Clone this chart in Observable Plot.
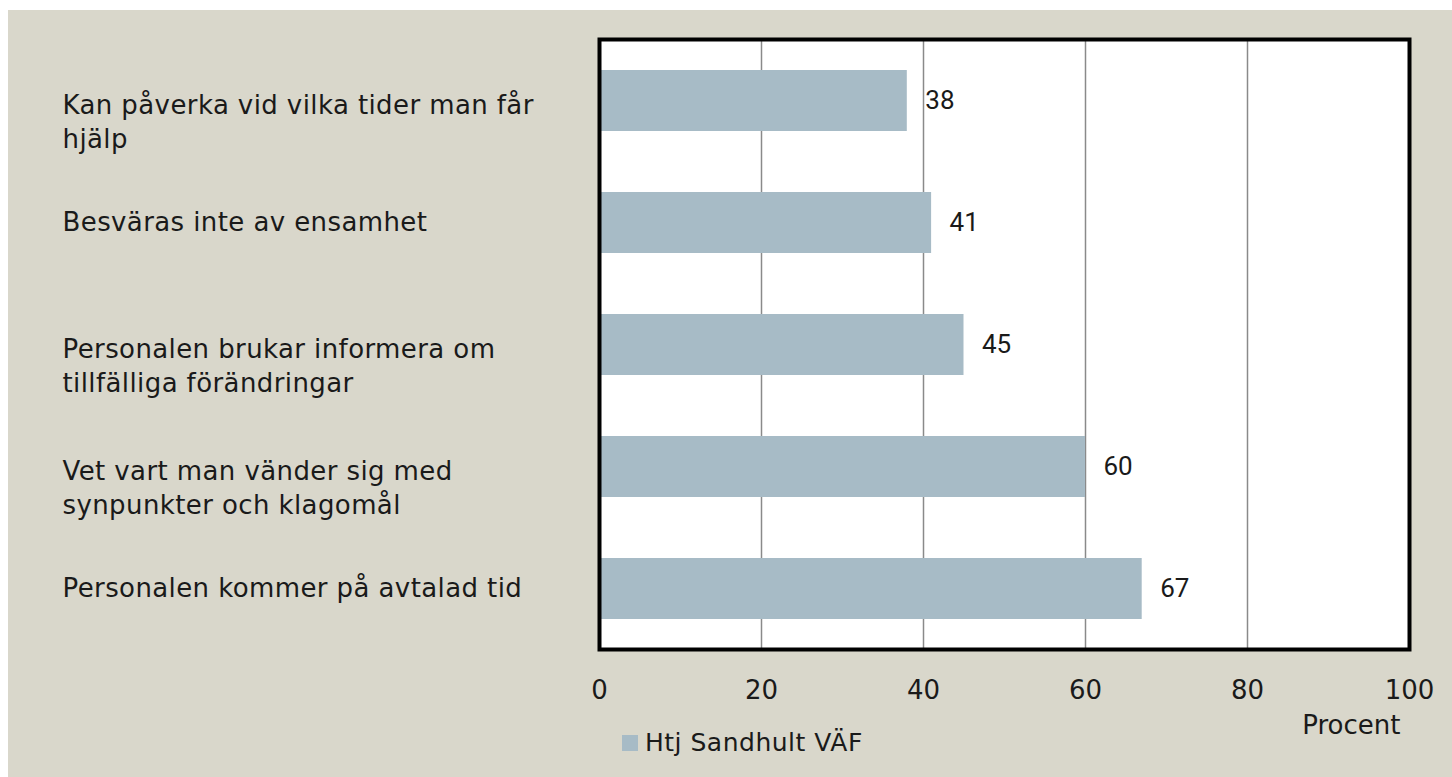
<!DOCTYPE html>
<html>
<head>
<meta charset="utf-8">
<script src="https://cdn.jsdelivr.net/npm/d3@7"></script>
<script src="https://cdn.jsdelivr.net/npm/@observablehq/plot@0.6"></script>
<style>
  html, body { margin: 0; padding: 0; background: #ffffff; }
  #wrap { position: absolute; left: 8px; top: 10px; width: 1444px; height: 767px; background: #d9d7cb; overflow: hidden; }
  #legend { position: absolute; left: 614px; top: 718px; display: flex; align-items: center; font-family: "DejaVu Sans", sans-serif; font-size: 25px; letter-spacing: 0.5px; color: #1a1a1a; }
  #legend .sw { width: 16px; height: 16px; background: #a7bbc6; margin-right: 7px; }
</style>
</head>
<body>
<div id="wrap"><div id="chart"></div><div id="legend"><span class="sw"></span><span id="legendText"></span></div></div>
<script>
const categories = [
  "Kan påverka vid vilka tider man får\nhjälp",
  "Besväras inte av ensamhet",
  "Personalen brukar informera om\ntillfälliga förändringar",
  "Vet vart man vänder sig med\nsynpunkter och klagomål",
  "Personalen kommer på avtalad tid"
];
const values = [38, 41, 45, 60, 67];
const xTicks = [0, 20, 40, 60, 80, 100];
const gridTicks = [20, 40, 60, 80];
const seriesName = "Htj Sandhult VÄF";
const axisLabel = "Procent";

const data = categories.map((c, i) => ({cat: c, value: values[i]}));
const singleLine = categories.filter(c => !c.includes("\n"));
const multiLine = categories.filter(c => c.includes("\n"));

const chart = Plot.plot({
  width: 1444,
  height: 767,
  marginLeft: 591,
  marginRight: 43,
  marginTop: 29,
  marginBottom: 128,
  style: {fontFamily: "DejaVu Sans, sans-serif", fontSize: "25px", background: "transparent", color: "#1a1a1a"},
  x: {domain: [0, 100]},
  y: {domain: categories, paddingInner: 0.5, paddingOuter: 0.25},
  marks: [
    Plot.frame({fill: "white", stroke: null}),
    Plot.gridX({ticks: gridTicks, stroke: "#8a8a8a", strokeOpacity: 1, strokeWidth: 1.5}),
    Plot.barX(data, {x: "value", y: "cat", fill: "#a7bbc6"}),
    Plot.text(data, {x: "value", y: "cat", text: d => String(d.value), textAnchor: "start", dx: 18, fontFamily: "Roboto", fontSize: 26, fill: "#1a1a1a"}),
    Plot.frame({stroke: "black", strokeWidth: 4}),
    Plot.axisY({ticks: singleLine, tickSize: 0, tickPadding: 0, textAnchor: "start", dx: -537, label: null, fontSize: 26}),
    Plot.axisY({ticks: multiLine, tickSize: 0, tickPadding: 0, textAnchor: "start", dx: -537, dy: 19, lineHeight: 1.33, label: null, fontSize: 26}),
    Plot.axisX({ticks: xTicks, tickSize: 0, tickPadding: 31, fontSize: 26, label: null}),
    Plot.text([axisLabel], {text: d => d, frameAnchor: "bottom-right", textAnchor: "end", lineAnchor: "middle", dx: -9, dy: 76, fontSize: 26})
  ]
});
document.getElementById("chart").appendChild(chart);
document.getElementById("legendText").textContent = seriesName;
chart.querySelectorAll("g[aria-label='y-axis tick label'] text").forEach(t => t.style.letterSpacing = "0.4px");
</script>
</body>
</html>
